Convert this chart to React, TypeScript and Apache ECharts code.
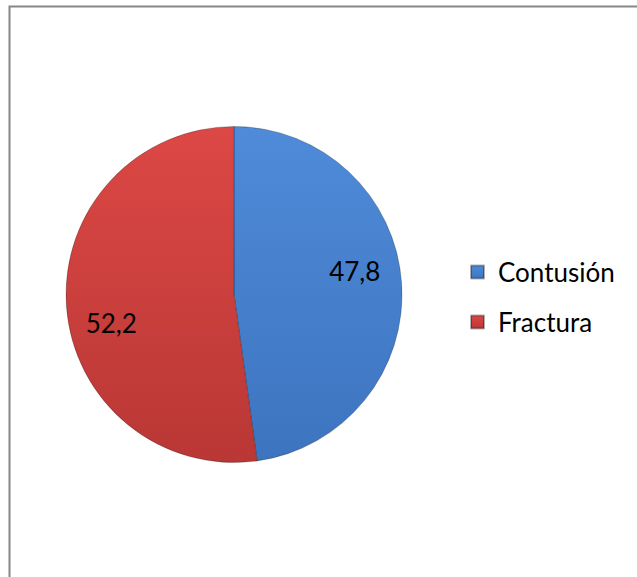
import React, { useEffect, useRef } from "react";
import * as echarts from "echarts";

const categories = ["Contusión", "Fractura"];
const values = [47.8, 52.2];

const colors = [
  ["#4f8bd9", "#3d74c0"],
  ["#dc4845", "#b93735"],
];
const labelOffsets = [
  [34, -17],
  [-36, 22],
];

export default function App() {
  const ref = useRef<HTMLDivElement>(null);
  useEffect(() => {
    document.body.style.margin = "0";
    const chart = echarts.init(ref.current!, null, { renderer: "svg" });
    const font = "Lato, 'Open Sans', sans-serif";
    chart.setOption({
      animation: false,
      backgroundColor: "#ffffff",
      graphic: [
        {
          type: "rect",
          shape: { x: 9.5, y: 6.5, width: 700, height: 700 },
          style: { fill: "none", stroke: "#878787", lineWidth: 2 },
          silent: true,
        },
      ],
      legend: {
        orient: "vertical",
        left: 465,
        top: 254,
        itemWidth: 13,
        itemHeight: 13,
        itemGap: 24,
        icon: "rect",
        textStyle: { fontFamily: font, fontSize: 26, color: "#000", padding: [0, 0, 0, 9] },
        data: categories,
      },
      series: [
        {
          type: "pie",
          center: [234, 294.5],
          radius: [0, 168],
          startAngle: 90,
          clockwise: true,
          labelLine: { show: false },
          itemStyle: { borderColor: "rgba(0,0,0,0.3)", borderWidth: 0.8 },
          label: {
            position: "inside",
            fontFamily: font,
            fontSize: 26,
            color: "#000",
            formatter: (p: any) => p.value.toFixed(1).replace(".", ","),
          },
          data: categories.map((name, i) => ({
            name,
            value: values[i],
            itemStyle: {
              color: new echarts.graphic.LinearGradient(0, 0, 0, 1, [
                { offset: 0, color: colors[i][0] },
                { offset: 1, color: colors[i][1] },
              ]),
            },
            label: { offset: labelOffsets[i] },
          })),
        },
      ],
    });
    return () => chart.dispose();
  }, []);
  return <div ref={ref} style={{ width: 637, height: 577 }} />;
}
